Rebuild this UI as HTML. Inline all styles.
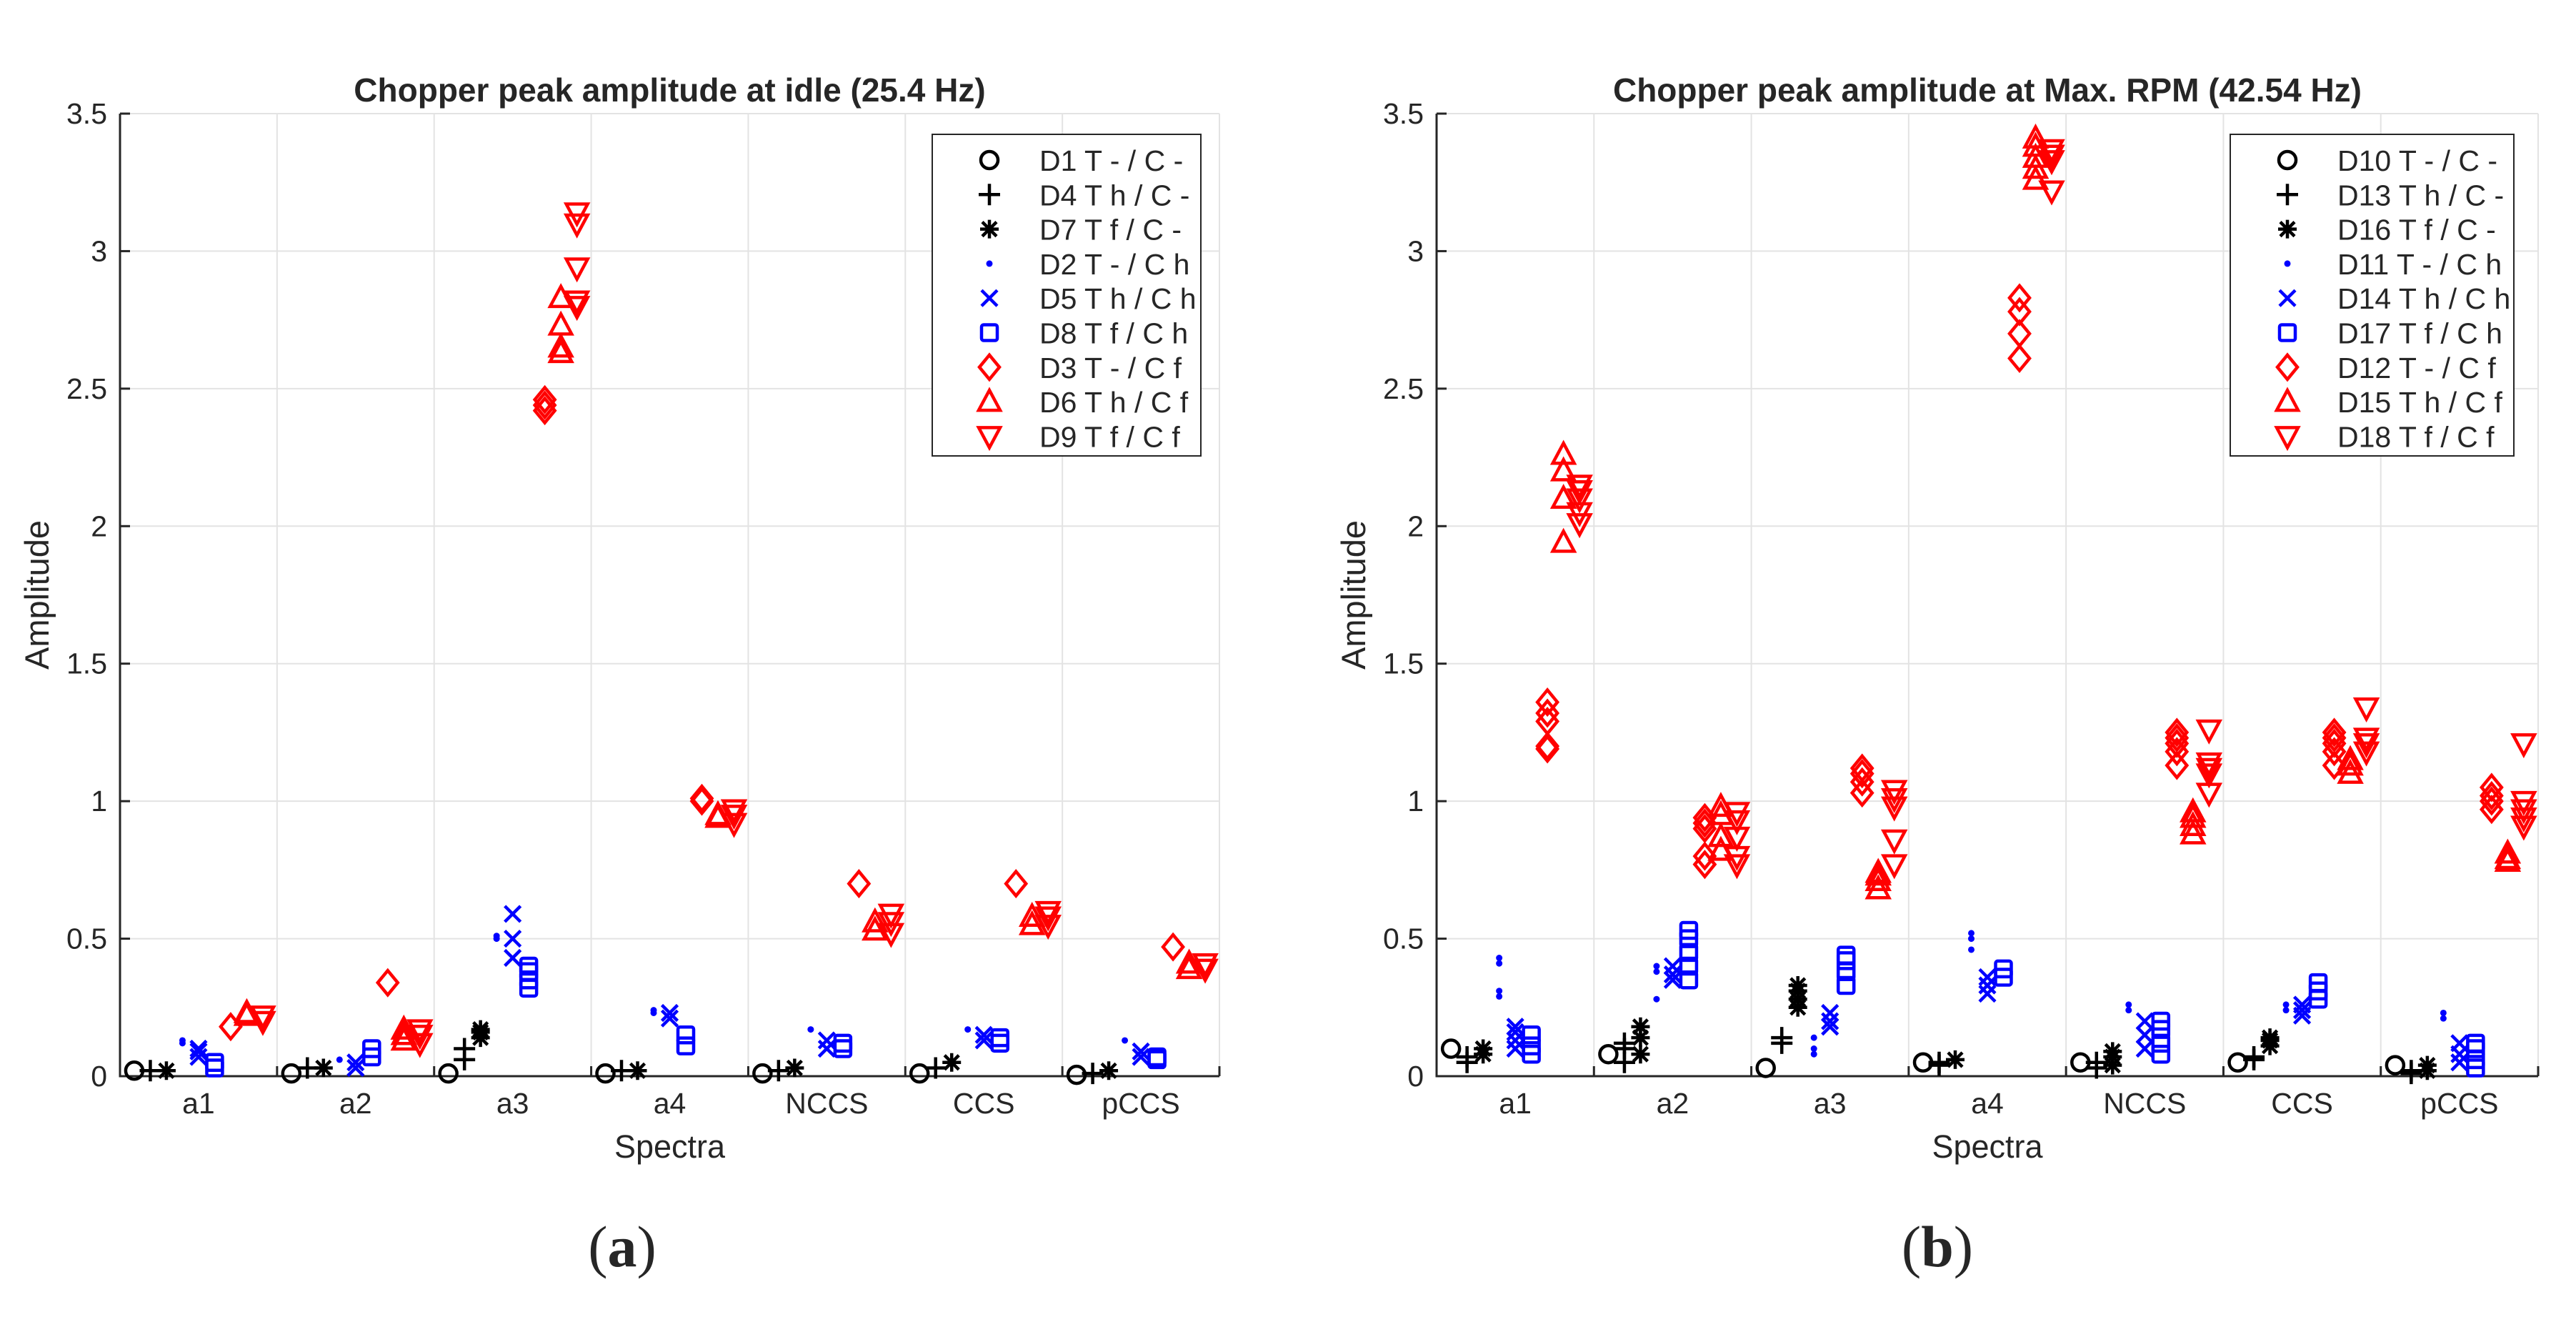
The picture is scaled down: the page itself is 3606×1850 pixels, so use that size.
<!DOCTYPE html>
<html><head><meta charset="utf-8"><style>
html,body{margin:0;padding:0;background:#fff}
svg{display:block}
text{font-family:"Liberation Sans",sans-serif;fill:#262626}
</style></head>
<body>
<svg id="fig" width="3606" height="1850" viewBox="0 0 3606 1850" xmlns="http://www.w3.org/2000/svg"></svg>
<script>
// ---- data ----
const categories = ["a1","a2","a3","a4","NCCS","CCS","pCCS"];
const yTicks = [0,0.5,1,1.5,2,2.5,3,3.5];
const yTickLabels = ["0","0.5","1","1.5","2","2.5","3","3.5"];
const markers = ["circle","plus","star","dot","x","square","diamond","up","down"];
const colors = ["#000","#000","#000","#00f","#00f","#00f","#f00","#f00","#f00"];
const legendA = ["D1 T - / C -","D4 T h / C -","D7 T f / C -","D2 T - / C h","D5 T h / C h","D8 T f / C h","D3 T - / C f","D6 T h / C f","D9 T f / C f"];
const legendB = ["D10 T - / C -","D13 T h / C -","D16 T f / C -","D11 T - / C h","D14 T h / C h","D17 T f / C h","D12 T - / C f","D15 T h / C f","D18 T f / C f"];
// values per series: [a1,a2,a3,a4,NCCS,CCS,pCCS], each a list of points
const a_D1 = [[0.02],[0.01],[0.01],[0.01],[0.01],[0.01],[0.005]];
const a_D4 = [[0.02],[0.03],[0.06,0.1],[0.02],[0.02],[0.03],[0.01]];
const a_D7 = [[0.02],[0.03],[0.14,0.16,0.17],[0.02],[0.03],[0.05],[0.02]];
const a_D2 = [[0.12,0.13],[0.06],[0.5,0.51],[0.23,0.24],[0.17],[0.17],[0.13]];
const a_D5 = [[0.07,0.09,0.1],[0.03,0.05],[0.43,0.5,0.59],[0.21,0.23],[0.1,0.13],[0.13,0.15],[0.07,0.09]];
const a_D8 = [[0.03,0.05],[0.07,0.1],[0.32,0.35,0.38,0.4],[0.11,0.15],[0.1,0.12],[0.12,0.14],[0.06,0.07]];
const a_D3 = [[0.18],[0.34],[2.42,2.44,2.46],[1.0,1.01],[0.7],[0.7],[0.47]];
const a_D6 = [[0.22,0.23],[0.13,0.15,0.17],[2.63,2.65,2.73,2.83],[0.94,0.95],[0.53,0.56],[0.55,0.58],[0.39,0.41]];
const a_D9 = [[0.2,0.22],[0.12,0.15,0.17],[2.8,2.82,2.94,3.1,3.14],[0.92,0.95,0.97],[0.52,0.56,0.59],[0.55,0.58,0.6],[0.39,0.41]];
const b_D10 = [[0.1],[0.08],[0.03],[0.05],[0.05],[0.05],[0.04]];
const b_D13 = [[0.05,0.07],[0.05,0.1,0.12],[0.12,0.14],[0.04,0.05],[0.03,0.05],[0.06,0.07],[0.01,0.02]];
const b_D16 = [[0.08,0.1],[0.08,0.14,0.18],[0.25,0.28,0.31,0.33],[0.06],[0.04,0.07,0.09],[0.11,0.13,0.14],[0.02,0.04]];
const b_D11 = [[0.29,0.31,0.41,0.43],[0.28,0.38,0.4],[0.08,0.1,0.14],[0.46,0.5,0.52],[0.24,0.26],[0.24,0.26],[0.21,0.23]];
const b_D14 = [[0.1,0.13,0.16,0.18],[0.35,0.37,0.4],[0.18,0.2,0.23],[0.3,0.33,0.36],[0.1,0.15,0.2],[0.22,0.24,0.26],[0.05,0.08,0.12]];
const b_D17 = [[0.08,0.11,0.15],[0.35,0.4,0.45,0.5,0.53],[0.33,0.38,0.42,0.44],[0.36,0.39],[0.08,0.12,0.17,0.2],[0.28,0.31,0.34],[0.03,0.06,0.1,0.12]];
const b_D12 = [[1.19,1.2,1.29,1.32,1.36],[0.77,0.8,0.9,0.92,0.94],[1.03,1.07,1.1,1.12],[2.61,2.7,2.78,2.83],[1.13,1.18,1.21,1.23,1.25],[1.13,1.18,1.21,1.23,1.25],[0.97,1.0,1.02,1.05]];
const b_D15 = [[1.94,2.1,2.2,2.26],[0.82,0.87,0.95,0.98],[0.68,0.71,0.73,0.74],[3.26,3.3,3.34,3.38,3.41],[0.88,0.91,0.94,0.96],[1.1,1.13,1.15],[0.78,0.79,0.81]];
const b_D18 = [[2.01,2.05,2.1,2.13,2.15],[0.77,0.8,0.87,0.93,0.96],[0.77,0.86,0.98,1.01,1.04],[3.22,3.33,3.35,3.37],[1.03,1.1,1.12,1.14,1.26],[1.18,1.21,1.23,1.34],[0.91,0.94,0.97,1.0,1.21]];
const seriesA = [a_D1,a_D4,a_D7,a_D2,a_D5,a_D8,a_D3,a_D6,a_D9];
const seriesB = [b_D10,b_D13,b_D16,b_D11,b_D14,b_D17,b_D12,b_D15,b_D18];

const NS = "http://www.w3.org/2000/svg";
const svg = document.getElementById("fig");
function mk(tag, attrs, parent){
  const e = document.createElementNS(NS, tag);
  for (const k in attrs) e.setAttribute(k, attrs[k]);
  (parent||svg).appendChild(e);
  return e;
}
function drawMarker(g, type, x, y, col){
  const sw = 4.5;
  let e;
  if (type==="circle") e = mk("circle",{cx:x,cy:y,r:12,fill:"none",stroke:col,"stroke-width":sw},g);
  else if (type==="plus") e = mk("path",{d:`M${x-15} ${y}H${x+15}M${x} ${y-15}V${y+15}`,stroke:col,"stroke-width":sw,fill:"none"},g);
  else if (type==="star") e = mk("path",{d:`M${x-13} ${y}H${x+13}M${x} ${y-13}V${y+13}M${x-10} ${y-10}L${x+10} ${y+10}M${x-10} ${y+10}L${x+10} ${y-10}`,stroke:col,"stroke-width":sw,fill:"none"},g);
  else if (type==="dot") e = mk("circle",{cx:x,cy:y,r:4.5,fill:col},g);
  else if (type==="x") e = mk("path",{d:`M${x-11} ${y-11}L${x+11} ${y+11}M${x-11} ${y+11}L${x+11} ${y-11}`,stroke:col,"stroke-width":sw,fill:"none"},g);
  else if (type==="square") e = mk("rect",{x:x-11,y:y-11,width:22,height:22,rx:3,fill:"none",stroke:col,"stroke-width":sw},g);
  else if (type==="diamond") e = mk("path",{d:`M${x} ${y-17}L${x+14} ${y}L${x} ${y+17}L${x-14} ${y}Z`,stroke:col,"stroke-width":sw,fill:"none"},g);
  else if (type==="up") e = mk("path",{d:`M${x} ${y-16}L${x+15} ${y+12}L${x-15} ${y+12}Z`,stroke:col,"stroke-width":sw,fill:"none"},g);
  else if (type==="down") e = mk("path",{d:`M${x} ${y+16}L${x+15} ${y-12}L${x-15} ${y-12}Z`,stroke:col,"stroke-width":sw,fill:"none"},g);
  return e;
}
function drawPlot(p){
  const {L,R,T,B,title,series,legend,legX,tag,tagX} = p;
  const yMax = 3.5;
  const ys = v => B - v/yMax*(B-T);
  const cw = (R-L)/categories.length;
  const xs = (ci, si) => L + cw*(ci+0.5) + (si-4)*22.5;
  const g = mk("g",{});
  
  
  yTicks.forEach(v=>{ if(v>0){ const l=mk("line",{x1:L,x2:R,y1:ys(v),y2:ys(v),stroke:"#e3e3e3","stroke-width":2},g);
      }});
  for(let i=1;i<=categories.length;i++){ const x=L+cw*i; const l=mk("line",{x1:x,x2:x,y1:T,y2:B,stroke:"#e3e3e3","stroke-width":2},g);
      }
  const ax = mk("path",{d:`M${L} ${T}V${B}H${R}`,stroke:"#262626","stroke-width":3,fill:"none"},g);
   
  yTicks.forEach((v,i)=>{
    mk("line",{x1:L,x2:L+14,y1:ys(v),y2:ys(v),stroke:"#262626","stroke-width":3},g);
    const t=mk("text",{x:L-18,y:ys(v)+14,"text-anchor":"end","font-size":41},g); t.textContent=yTickLabels[i];
     
  });
  for(let i=0;i<=categories.length;i++){ const x=L+cw*i; mk("line",{x1:x,x2:x,y1:B,y2:B-14,stroke:"#262626","stroke-width":3},g); }
  categories.forEach((c,i)=>{ const t=mk("text",{x:L+cw*(i+0.5),y:B+52,"text-anchor":"middle","font-size":41},g); t.textContent=c;
      });
  let t=mk("text",{x:(L+R)/2,y:142,"text-anchor":"middle","font-size":46,"font-weight":"bold",fill:"#000"},g); t.textContent=title;
   
  t=mk("text",{x:(L+R)/2,y:1620,"text-anchor":"middle","font-size":45},g); t.textContent="Spectra";
   
  t=mk("text",{x:0,y:0,"text-anchor":"middle","font-size":47,transform:`translate(${L-100},${(T+B)/2}) rotate(-90)`},g); t.textContent="Amplitude";
   
  t=mk("text",{x:tagX,y:1772,"text-anchor":"middle","font-size":82,style:"font-family:'Liberation Serif',serif",fill:"#000"},g);
  t.innerHTML='(<tspan font-weight="bold">'+tag+'</tspan>)';
   
  series.forEach((s,si)=>{
    const sg = mk("g",{},g);
    
    
    s.forEach((vals,ci)=>vals.forEach(v=>{
      const m = drawMarker(sg, markers[si], xs(ci,si), ys(v), colors[si]);
      
      
    }));
  });
  const lg = mk("g",{},g);
   
  mk("rect",{x:legX,y:188,width:p.legW,height:450,fill:"#fff",stroke:"#262626","stroke-width":2},lg);
  legend.forEach((txt,i)=>{
    const y = 224 + i*48.3;
    drawMarker(lg, markers[i], legX+80, y, colors[i]);
    const lt = mk("text",{x:legX+150,y:y+15,"font-size":41,fill:"#000"},lg); lt.textContent=txt;
     
  });
}
drawPlot({name:"chart-idle",L:168,R:1707,T:159,B:1506,title:"Chopper peak amplitude at idle (25.4 Hz)",series:seriesA,legend:legendA,legX:1305,legW:376,tag:"a",tagX:871});
drawPlot({name:"chart-max-rpm",L:2011,R:3553,T:159,B:1506,title:"Chopper peak amplitude at Max. RPM (42.54 Hz)",series:seriesB,legend:legendB,legX:3122,legW:397,tag:"b",tagX:2712});
</script>
</body></html>
